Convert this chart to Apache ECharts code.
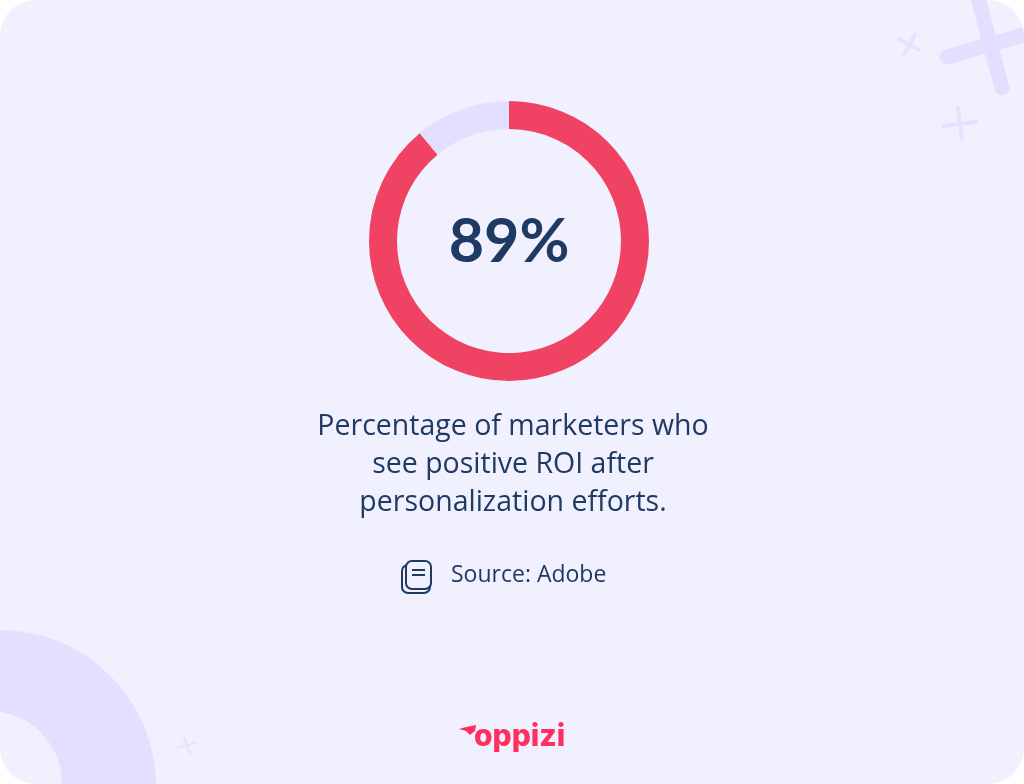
<!DOCTYPE html>
<html><head><meta charset="utf-8">
<style>html,body{margin:0;padding:0;background:#fff}#c{width:1024px;height:784px}</style>
<script src="https://cdn.jsdelivr.net/npm/echarts@6/dist/echarts.min.js"></script></head>
<body><div id="c"></div>
<script>
const sliceNames = ['See positive ROI', 'Others'];
const sliceValues = [89, 11];
const headline = '89%';
const captionLines = ['Percentage of marketers who', 'see positive ROI after', 'personalization efforts.'];
const sourceText = 'Source: Adobe';
const brandText = 'oppizi';

const BG='#F1F0FF', LAV='#E2E0FE', RED='#F04363', NAVY='#1F3A63', BRAND='#FF2F5E';
const FONT='Lato, "Noto Sans", sans-serif', BODY='"Open Sans", "Noto Sans", sans-serif', LOGO='Inter, Lato, sans-serif';
const bar=(x1,y1,x2,y2,w,o)=>({type:'line',silent:true,shape:{x1,y1,x2,y2},style:{stroke:LAV,lineWidth:w,lineCap:'round',opacity:o||1}});
// white page corner outside the rounded card
const corner=(px,py,cx,cy,a0)=>{const R=36,pts=[[px,py]];for(let i=0;i<=16;i++){const a=(a0+i*90/16)*Math.PI/180;pts.push([cx+R*Math.cos(a),cy+R*Math.sin(a)]);}
 return {type:'polygon',silent:true,shape:{points:pts},style:{fill:'#fff'}};};
const elems=[
 {type:'rect',silent:true,shape:{x:0,y:0,width:1024,height:784},style:{fill:BG}},
 {type:'circle',silent:true,shape:{cx:0,cy:786,r:156},style:{fill:LAV}},
 {type:'circle',silent:true,shape:{cx:-11,cy:784,r:73},style:{fill:BG}},
 bar(947,57,1040,30,15), bar(976,-10,1002,88,15),
 bar(899,39,919,50,4,.8), bar(915,35,904,54,4,.8),
 bar(943,126,976,122,4,.9), bar(958,108,962,139,4,.9),
 bar(178,748,196,743,2.5,.7), bar(184,737,190,754,2.5,.7),
 corner(0,0,36,36,180), corner(1024,0,988,36,270), corner(1024,784,988,748,0), corner(0,784,36,748,90),
 {type:'text',silent:true,style:{x:509,y:242,text:headline,align:'center',verticalAlign:'middle',font:'700 61px '+FONT,fill:NAVY}},
 ...captionLines.map((t,i)=>({type:'text',silent:true,style:{x:513,y:427+i*38,text:t,align:'center',verticalAlign:'middle',font:'400 28.5px '+BODY,fill:NAVY}})),
 {type:'rect',silent:true,shape:{x:402,y:565,width:28,height:28,r:6},style:{fill:BG,stroke:NAVY,lineWidth:2}},
 {type:'rect',silent:true,shape:{x:406,y:561,width:25,height:28,r:6},style:{fill:BG,stroke:NAVY,lineWidth:2}},
 {type:'line',silent:true,shape:{x1:412,y1:570,x2:425,y2:570},style:{stroke:NAVY,lineWidth:2}},
 {type:'line',silent:true,shape:{x1:412,y1:575,x2:425,y2:575},style:{stroke:NAVY,lineWidth:2}},
 {type:'text',silent:true,style:{x:451,y:575,text:sourceText,align:'left',verticalAlign:'middle',font:'400 23px '+BODY,fill:NAVY}},
 {type:'text',silent:true,style:{x:474,y:737,text:brandText,align:'left',verticalAlign:'middle',font:'800 30px '+LOGO,fill:BRAND}},
 {type:'polygon',silent:true,shape:{points:[[459,729],[466,727],[476,725],[475,731],[470,735],[466,731]]},style:{fill:BRAND}}
];
const chart=echarts.init(document.getElementById('c'),null,{renderer:'canvas'});
chart.setOption({
 animation:false,
 backgroundColor:'#fff',
 graphic:{elements:elems},
 series:[{type:'pie',z:10,center:[509,241],radius:[112,140],startAngle:90,clockwise:true,silent:true,
  label:{show:false},labelLine:{show:false},
  data:sliceNames.map((n,i)=>({name:n,value:sliceValues[i],itemStyle:{color:[RED,LAV][i]}}))}]
});
</script></body></html>
